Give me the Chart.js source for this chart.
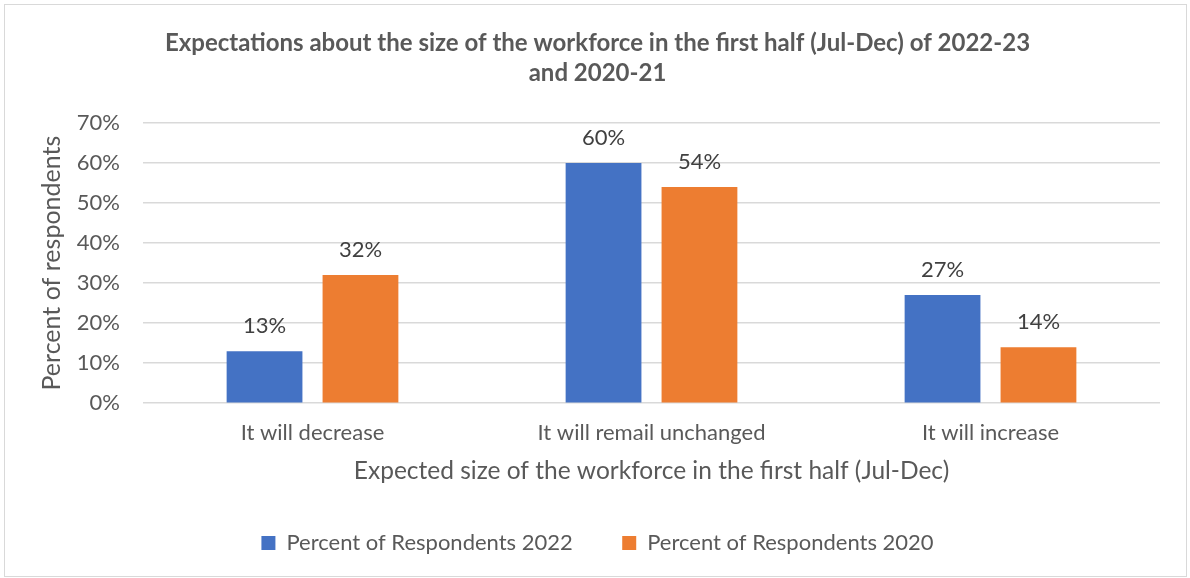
<!DOCTYPE html>
<html>
<head>
<meta charset="utf-8">
<script src="https://cdn.jsdelivr.net/npm/chart.js@4.4.1/dist/chart.umd.min.js"></script>
<style>
  html, body { margin: 0; padding: 0; background: #ffffff; }
  #wrap { position: absolute; left: 4px; top: 4px; width: 1183px; height: 573px; border: 1px solid #d9d9d9; box-sizing: border-box; }
  #wrap canvas { position: absolute; left: 0; top: 0; }
</style>
</head>
<body>
<div id="wrap"><canvas id="chart" width="1181" height="571"></canvas></div>
<script>
const categories = ['It will decrease', 'It will remail unchanged', 'It will increase'];
const respondents2022 = [13, 60, 27];
const respondents2020 = [32, 54, 14];
const seriesNames = ['Percent of Respondents 2022', 'Percent of Respondents 2020'];
const yTicks = [0, 10, 20, 30, 40, 50, 60, 70];

const FONT = 'Lato, "Open Sans", sans-serif';
const TEXT = '#595959';

// Writes each bar's value above it
const valueLabels = {
  id: 'valueLabels',
  afterDatasetsDraw(chart) {
    const ctx = chart.ctx;
    ctx.save();
    ctx.font = '22px ' + FONT;
    ctx.fillStyle = '#404040';
    ctx.textAlign = 'center';
    ctx.textBaseline = 'bottom';
    chart.data.datasets.forEach((ds, i) => {
      chart.getDatasetMeta(i).data.forEach((bar, j) => {
        ctx.fillText(ds.data[j] + '%', bar.x, bar.y - 14);
      });
    });
    ctx.restore();
  }
};

new Chart(document.getElementById('chart'), {
  type: 'bar',
  data: {
    labels: categories,
    datasets: [
      { label: seriesNames[0], data: respondents2022, backgroundColor: '#4472C4' },
      { label: seriesNames[1], data: respondents2020, backgroundColor: '#ED7D31' }
    ]
  },
  options: {
    responsive: false,
    animation: false,
    devicePixelRatio: 1,
    layout: { padding: { left: 30, right: 26, top: 8, bottom: 12 } },
    datasets: { bar: { categoryPercentage: 0.566, barPercentage: 0.79 } },
    plugins: {
      title: {
        display: true,
        text: ['Expectations about the size of the workforce in the first half (Jul-Dec) of 2022-23', 'and 2020-21'],
        color: TEXT,
        font: { family: FONT, size: 24, weight: 'bold', lineHeight: 1.25 },
        padding: { top: 15, bottom: 35 }
      },
      legend: {
        position: 'bottom',
        labels: {
          color: TEXT,
          font: { family: FONT, size: 22 },
          boxWidth: 14, boxHeight: 14, padding: 10,
          generateLabels(chart) {
            const items = Chart.defaults.plugins.legend.labels.generateLabels(chart);
            items.forEach((it, i) => { if (i < items.length - 1) it.text = it.text + '       '; });
            return items;
          }
        }
      },
      tooltip: { enabled: false }
    },
    scales: {
      x: {
        grid: { display: false, drawTicks: false },
        border: { display: false },
        ticks: { color: TEXT, font: { family: FONT, size: 22 }, padding: 17 },
        title: {
          display: true, text: 'Expected size of the workforce in the first half (Jul-Dec)',
          color: TEXT, font: { family: FONT, size: 24.5 }, padding: { top: -7, bottom: 36 }
        }
      },
      y: {
        min: 0, max: 70,
        afterBuildTicks(axis) { axis.ticks = yTicks.map(v => ({ value: v })); },
        afterFit(axis) { axis.width = 108; },
        grid: { color: '#d9d9d9', lineWidth: 1.5, drawTicks: false },
        border: { display: false },
        ticks: { color: TEXT, font: { family: FONT, size: 22 }, padding: 23, callback: v => v + '%' },
        title: {
          display: true, text: 'Percent of respondents',
          color: TEXT, font: { family: FONT, size: 25 }, padding: { top: 2, bottom: 6 }
        }
      }
    }
  },
  plugins: [valueLabels]
});
</script>
</body>
</html>
